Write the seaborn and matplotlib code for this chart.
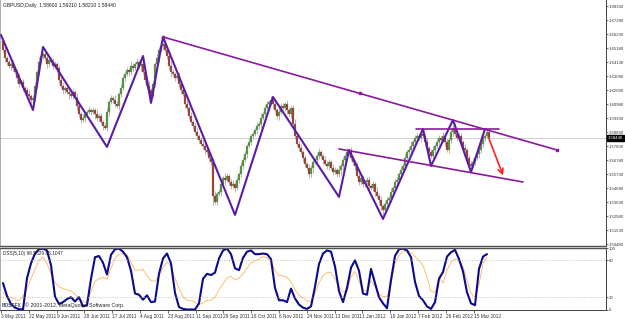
import numpy as np
import pandas as pd
import matplotlib
matplotlib.use("Agg")
import matplotlib.pyplot as plt
import matplotlib.transforms as mtransforms
import seaborn as sns

sns.set_style("white")
plt.rcParams['font.family'] = ['Liberation Sans', 'DejaVu Sans']

# ---------------- data ----------------
header = "GBPUSD,Daily  1.58600 1.59210 1.58210 1.58440"
first_open = 1.6570
close = [
    1.6503, 1.6443, 1.6413, 1.6383, 1.6398, 1.6368, 1.6338, 1.6293, 1.6248, 1.6263,
    1.6218, 1.6203, 1.6173, 1.6158, 1.6128, 1.6143, 1.6233, 1.6338, 1.6413, 1.6458,
    1.6473, 1.6443, 1.6398, 1.6428, 1.6413, 1.6383, 1.6398, 1.6368, 1.6278, 1.6233,
    1.6203, 1.6218, 1.6188, 1.6173, 1.6158, 1.6188, 1.6143, 1.6083, 1.6023, 1.5978,
    1.5993, 1.6023, 1.6038, 1.6053, 1.6038, 1.6053, 1.6023, 1.5993, 1.6008, 1.5963,
    1.5933, 1.5918, 1.6038, 1.6113, 1.6143, 1.6128, 1.6098, 1.6083, 1.6173, 1.6218,
    1.6293, 1.6323, 1.6353, 1.6338, 1.6383, 1.6368, 1.6398, 1.6413, 1.6383, 1.6398,
    1.6338, 1.6278, 1.6233, 1.6203, 1.6158, 1.6248, 1.6398, 1.6443, 1.6503, 1.6533,
    1.6548, 1.6503, 1.6458, 1.6383, 1.6338, 1.6323, 1.6293, 1.6308, 1.6248, 1.6203,
    1.6173, 1.6098, 1.6068, 1.6008, 1.5963, 1.5933, 1.5888, 1.5858, 1.5828, 1.5798,
    1.5783, 1.5753, 1.5738, 1.5693, 1.5663, 1.5408, 1.5363, 1.5423, 1.5438, 1.5498,
    1.5543, 1.5528, 1.5558, 1.5513, 1.5483, 1.5498, 1.5468, 1.5528, 1.5573, 1.5633,
    1.5678, 1.5723, 1.5783, 1.5813, 1.5858, 1.5873, 1.5903, 1.5933, 1.5948, 1.5993,
    1.6023, 1.6068, 1.6098, 1.6113, 1.6128, 1.6098, 1.6053, 1.6008, 1.6038, 1.6083,
    1.6068, 1.6098, 1.6053, 1.6023, 1.6068, 1.5948, 1.5858, 1.5798, 1.5768, 1.5738,
    1.5693, 1.5648, 1.5618, 1.5573, 1.5618, 1.5663, 1.5678, 1.5708, 1.5738, 1.5708,
    1.5678, 1.5648, 1.5633, 1.5663, 1.5618, 1.5588, 1.5603, 1.5573, 1.5603, 1.5633,
    1.5678, 1.5708, 1.5738, 1.5753, 1.5693, 1.5663, 1.5633, 1.5558, 1.5513, 1.5543,
    1.5498, 1.5513, 1.5528, 1.5483, 1.5468, 1.5498, 1.5438, 1.5408, 1.5378, 1.5333,
    1.5303, 1.5348, 1.5378, 1.5393, 1.5438, 1.5468, 1.5513, 1.5528, 1.5573, 1.5603,
    1.5633, 1.5693, 1.5738, 1.5753, 1.5783, 1.5813, 1.5843, 1.5858, 1.5843, 1.5873,
    1.5858, 1.5813, 1.5768, 1.5738, 1.5708, 1.5753, 1.5783, 1.5813, 1.5843, 1.5828,
    1.5858, 1.5813, 1.5753, 1.5828, 1.5888, 1.5918, 1.5873, 1.5843, 1.5858, 1.5813,
    1.5768, 1.5753, 1.5693, 1.5648, 1.5633, 1.5663, 1.5693, 1.5723, 1.5753, 1.5798,
    1.5843, 1.5858, 1.5888, 1.5844,
]
wick_up_pips = [
    20, 35, 15, 25, 18, 30, 12, 22, 40, 15, 25, 14, 20, 32, 16, 20, 28, 12, 35, 22,
    18, 25, 40, 16, 14, 30, 22, 12, 26, 38, 20, 16, 24, 30, 14, 26, 18, 35, 22, 12,
    28, 20, 14, 32, 18, 24, 16, 38, 20, 26, 14, 22, 30, 18, 24, 12, 36, 20, 16, 28,
    22, 14, 26, 18, 34, 20, 16, 28, 12, 24, 30, 18, 22, 40, 16, 26, 14, 32, 20, 24,
    16, 28, 20, 14, 36, 22, 18, 26, 30, 14, 24, 20, 32, 16, 28, 12, 22, 38, 18, 26,
    30, 16, 24, 20, 14, 28, 36, 18, 22, 26, 12, 34, 20, 16, 24, 30, 18, 22, 14, 28,
    20, 26, 14, 32, 18, 24, 16, 28, 22, 36, 14, 20, 26, 18, 30, 16, 24, 12, 34, 20,
    24, 18, 30, 14, 26, 20, 38, 16, 22, 28, 12, 24, 18, 32, 20, 26, 14, 22, 30, 16,
    18, 32, 20, 24, 14, 28, 22, 16, 36, 20, 26, 14, 30, 18, 24, 20, 12, 28, 22, 34,
    26, 14, 22, 30, 18, 24, 16, 34, 20, 28, 14, 22, 26, 18, 32, 16, 24, 20, 14, 30,
    22, 28, 16, 24, 36, 18, 20, 26, 14, 32, 22, 18, 28, 16, 24, 30, 14, 20, 26, 18,
    30, 18, 24, 14, 28, 20, 34, 16, 22, 26, 18, 30, 14, 24, 20, 28, 16, 36, 22, 18,
    24, 16, 28, 14,
]
wick_dn_pips = [
    18, 28, 22, 14, 30, 20, 16, 34, 24, 18, 26, 14, 30, 20, 38, 16, 22, 18, 26, 14,
    24, 16, 30, 20, 14, 26, 18, 32, 22, 16, 28, 20, 14, 34, 18, 24, 16, 28, 20, 26,
    14, 30, 22, 18, 26, 16, 34, 20, 24, 14, 28, 18, 22, 30, 16, 26, 20, 14, 32, 22,
    18, 26, 14, 30, 20, 24, 16, 28, 22, 36, 14, 20, 26, 18, 32, 16, 24, 20, 28, 14,
    30, 16, 24, 20, 34, 14, 26, 18, 22, 28, 16, 30, 20, 24, 14, 26, 18, 32, 20, 16,
    22, 28, 14, 26, 20, 70, 18, 24, 16, 28, 22, 36, 14, 20, 26, 18, 30, 16, 24, 20,
    26, 14, 30, 18, 24, 20, 16, 28, 22, 32, 18, 24, 14, 26, 20, 30, 16, 22, 28, 18,
    16, 24, 28, 14, 32, 20, 26, 18, 22, 16, 30, 24, 14, 28, 20, 34, 18, 22, 26, 16,
    28, 18, 24, 30, 16, 22, 14, 26, 20, 34, 40, 24, 18, 28, 16, 22, 30, 14, 26, 20,
    20, 26, 16, 32, 18, 24, 28, 14, 22, 30, 60, 26, 20, 18, 32, 24, 14, 28, 22, 18,
    24, 16, 30, 20, 26, 14, 28, 22, 18, 32, 16, 24, 20, 28, 14, 26, 30, 18, 22, 16,
    18, 28, 14, 24, 20, 30, 16, 26, 22, 14, 28, 20, 32, 18, 24, 16, 26, 14, 30, 22,
    20, 26, 14, 18,
]
# DSS(5,10) oscillator, one reading every second bar
dss_main = [
    43, 22, 9, 3, 0.5, 0, 51, 75, 91, 98,
    99, 96, 72, 21, 9, 12, 17, 20, 13, 20,
    5, 7, 50, 85, 87, 76, 57, 89, 98, 99,
    94, 85, 63, 26, 24, 16, 23, 12, 13, 58,
    83, 91, 75, 27, 4, 1, 0, 0, 0, 10,
    50, 58, 56, 60, 83, 96, 99, 90, 67, 64,
    84, 94, 96, 90, 90, 91, 90, 82, 35, 15,
    15, 12, 34, 18, 8, 3, 1, 5, 37, 74,
    91, 96, 94, 70, 30, 12, 35, 68, 80, 63,
    26, 24, 66, 43, 20, 10, 2, 48, 87, 98,
    99, 96, 85, 45, 22, 15, 5, 1, 12, 50,
    61, 86, 93, 97, 82, 62, 28, 10, 7, 66,
    86, 90,
]
dss_signal = [
    28, 21, 20, 17, 14, 21, 33, 50, 65, 80,
    85, 75, 58, 44, 37, 34, 32, 30, 25, 17,
    13, 11, 29, 46, 50, 52, 49, 67, 83, 90,
    91, 90, 77, 64, 64, 65, 55, 47, 46, 55,
    68, 77, 71, 51, 34, 21, 15, 14, 12, 8,
    11, 15, 15, 20, 32, 42, 51, 54, 48, 51,
    58, 67, 76, 79, 82, 86, 84, 78, 64, 55,
    55, 52, 45, 32, 23, 19, 14, 13, 26, 43,
    55, 60, 60, 50, 37, 29, 29, 53, 62, 45,
    32, 30, 47, 37, 25, 21, 21, 41, 75, 88,
    94, 97, 92, 86, 80, 71, 53, 30, 28, 53,
    43, 64, 77, 82, 80, 70, 48, 26, 20, 40,
    75, 85,
]
date_labels = ["3 May 2011", "22 May 2011", "9 Jun 2011", "28 Jun 2011", "17 Jul 2011",
               "4 Aug 2011", "23 Aug 2011", "11 Sep 2011", "29 Sep 2011", "18 Oct 2011",
               "6 Nov 2011", "24 Nov 2011", "13 Dec 2011", "1 Jan 2012", "19 Jan 2012",
               "7 Feb 2012", "26 Feb 2012", "15 Mar 2012"]
price_ticks = [1.50480, 1.51530, 1.52580, 1.53630, 1.54680, 1.55730, 1.56780, 1.57830,
               1.58880, 1.59930, 1.60980, 1.62030, 1.63080, 1.64130, 1.65180, 1.66230,
               1.67280, 1.68330]
dss_ticks = [0, 20, 80, 100]
bid = 1.58440
# hand-drawn objects (bar index, price)
zz_bars = [-1, 15, 20, 52, 70, 74, 80, 116, 135, 168, 173, 190, 210, 214, 225, 234, 241]
zz_prices = [1.6616, 1.6053, 1.6526, 1.5776, 1.6458, 1.6106, 1.6601, 1.5266, 1.6151,
             1.5401, 1.5753, 1.5236, 1.5911, 1.5633, 1.5978, 1.5588, 1.5911]
trend_bars = [80, 178.5, 277]
trend_prices = [1.6601, 1.6177, 1.5753]
chan_bars = [168, 260]
chan_prices = [1.5761, 1.5513]
res_bars = [206.5, 248]
res_prices = [1.5911, 1.5911]
arrow_bars = [242.5, 250.5]
arrow_prices = [1.5858, 1.5543]

# ---------------- derived ----------------
N = len(close)
bars = np.arange(N)
c = np.array(close)
o = np.array([first_open] + close[:-1])
hi = np.maximum(o, c) + np.array(wick_up_pips[:N]) / 1e4
lo = np.minimum(o, c) - np.array(wick_dn_pips[:N]) / 1e4
stoch_bars = np.arange(0, 2 * len(dss_main), 2)

W, H = 625, 319
fig = plt.figure(figsize=(W / 100, H / 100), dpi=100)
fig.patch.set_facecolor('white')


def px_axes(x0, y0, x1, y1):
    return fig.add_axes([x0 / W, 1 - y1 / H, (x1 - x0) / W, (y1 - y0) / H])


ax = px_axes(0, 0, 606, 246)
ax2 = px_axes(0, 248, 606, 310)
XL = (-1.5, 301.5)
TXT = '#333333'
FS = 3.1

# candles
ax.vlines(bars, lo, hi, color='#b4b4b4', lw=0.7, zorder=2)
up = c >= o
ax.bar(bars[up], (c - o)[up], bottom=o[up], width=0.8, color='#4f9a35',
       edgecolor='#7a7a7a', linewidth=0.2, zorder=3)
ax.bar(bars[~up], (o - c)[~up], bottom=c[~up], width=0.8, color='#a3392c',
       edgecolor='#7a7a7a', linewidth=0.2, zorder=3)

# bid line
ax.axhline(bid, color='#c8c8c8', lw=0.6, zorder=1)

# zigzag & objects
sns.lineplot(x=zz_bars, y=zz_prices, ax=ax, color='#5a1ca6', lw=1.5, sort=False,
             estimator=None, zorder=5)
ax.plot([trend_bars[0], trend_bars[-1]], [trend_prices[0], trend_prices[-1]],
        color='#8a1a9c', lw=1.2, zorder=5)
ax.scatter(trend_bars, trend_prices, marker='s', s=4, color='#8a1a9c', zorder=6)
ax.plot(chan_bars, chan_prices, color='#8a1a9c', lw=1.2, zorder=5)
ax.plot(res_bars, res_prices, color='#8a1a9c', lw=1.2, zorder=5)
ax.annotate('', xy=(arrow_bars[1], arrow_prices[1]), xytext=(arrow_bars[0], arrow_prices[0]),
            arrowprops=dict(arrowstyle='->', color='#ff2020', lw=1.2,
                            mutation_scale=9), zorder=7)

ax.set_xlim(*XL)
ax.set_ylim(1.5033, 1.6878)
ax.set_xticks([])
ax.yaxis.tick_right()
ax.set_yticks(price_ticks)
ax.set_yticklabels([f"{v:.5f}" for v in price_ticks])
ax.tick_params(axis='y', which='both', length=1.5, width=0.5, pad=0.6,
               labelsize=FS, colors=TXT, right=True, left=False)
ax.spines['top'].set_visible(False)
ax.spines['left'].set_color('#a0a0a0')
ax.spines['left'].set_linewidth(0.6)
ax.spines['right'].set_color('#404040')
ax.spines['right'].set_linewidth(0.7)
ax.spines['bottom'].set_color('#505050')
ax.spines['bottom'].set_linewidth(1.0)

blend = mtransforms.blended_transform_factory(ax.transAxes, ax.transData)
ax.text(1.0035, bid, f"{bid:.5f}", transform=blend, fontsize=FS, color='white',
        va='center', ha='left', clip_on=False, zorder=10,
        bbox=dict(boxstyle='square,pad=0.15', facecolor='black', edgecolor='black'))
fig.text(3 / W, 1 - 5 / H, header, fontsize=3.6, va='center', ha='left', color='#222222')

# oscillator
sns.lineplot(x=stoch_bars, y=dss_signal, ax=ax2, color='#ffb459', lw=0.6, sort=False,
             estimator=None)
sns.lineplot(x=stoch_bars, y=dss_main, ax=ax2, color='#0a0a8c', lw=1.5, sort=False,
             estimator=None)
for lvl in (20, 80):
    ax2.axhline(lvl, color='#b0b0b0', lw=0.5, ls=(0, (1.5, 2)))
ax2.set_xlim(*XL)
ax2.set_ylim(-0.8, 100)
ax2.yaxis.tick_right()
ax2.set_yticks(dss_ticks)
ax2.set_yticklabels([str(v) for v in dss_ticks])
ax2.tick_params(axis='y', length=1.5, width=0.5, pad=0.6, labelsize=FS, colors=TXT,
                right=True, left=False)
tick_pos = np.arange(len(date_labels)) * 13.9 - 1
ax2.set_xticks(tick_pos)
ax2.set_xticklabels(date_labels)
ax2.tick_params(axis='x', length=2, width=0.5, pad=1.0, labelsize=3.4, colors=TXT,
                bottom=True)
for t in ax2.get_xticklabels():
    t.set_ha('left')
ax2.spines['top'].set_color('#505050')
ax2.spines['top'].set_linewidth(1.0)
ax2.spines['right'].set_color('#404040')
ax2.spines['right'].set_linewidth(0.7)
ax2.spines['bottom'].set_color('#404040')
ax2.spines['bottom'].set_linewidth(0.7)
ax2.spines['left'].set_color('#a0a0a0')
ax2.spines['left'].set_linewidth(0.6)
ax2.set_xlabel('')
ax2.set_ylabel('')
ax.set_xlabel('')
ax.set_ylabel('')

ax2.text(0.005, 0.95, "DSS(5,10) 98.5829 85.1047", transform=ax2.transAxes, fontsize=3.4,
         va='top', ha='left', color='#222222')
ax2.text(0.003, 0.04, "BOSSFX", transform=ax2.transAxes, fontsize=3.4, va='bottom',
         ha='left', color='#3a4a7a', fontweight='bold')
ax2.text(0.042, 0.04, "\u00a9 2001-2012, MetaQuotes Software Corp.", transform=ax2.transAxes,
         fontsize=3.8, va='bottom', ha='left', color='#222222')

fig.savefig('out.png', dpi=100)
